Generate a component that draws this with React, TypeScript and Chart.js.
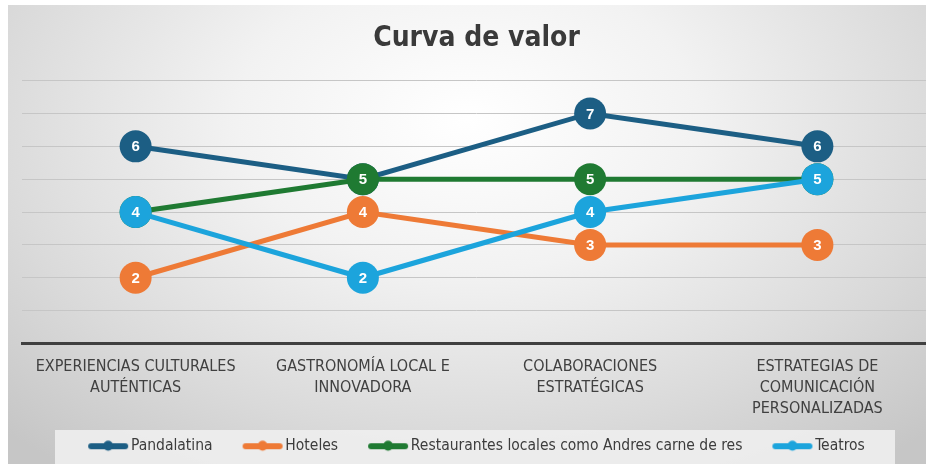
import React, { useEffect, useRef } from "react";
import { Chart, registerables } from "chart.js";

Chart.register(...registerables);

const titleText = "Curva de valor";
const categories: string[][] = [
  ["EXPERIENCIAS CULTURALES", "AUTÉNTICAS"],
  ["GASTRONOMÍA LOCAL E", "INNOVADORA"],
  ["COLABORACIONES", "ESTRATÉGICAS"],
  ["ESTRATEGIAS DE", "COMUNICACIÓN", "PERSONALIZADAS"],
];
const seriesNames = [
  "Pandalatina",
  "Hoteles",
  "Restaurantes locales como Andres carne de res",
  "Teatros",
];
const pandalatina = [6, 5, 7, 6];
const hoteles = [2, 4, 3, 3];
const restaurantes = [4, 5, 5, 5];
const teatros = [4, 2, 4, 5];
const yMin = 0;
const yMax = 8;
const yStep = 1;

const colors = ["#1c5e84", "#ee7a36", "#1f7a32", "#1ca4dc"];
const NARROW = "'DejaVu Sans Condensed', 'Liberation Sans Narrow', sans-serif";

const MARKER_BOX = 55;
function legendMarker(color: string) {
  const W = MARKER_BOX + 16;
  const c = document.createElement("canvas");
  c.width = W;
  c.height = 12;
  const ctx = c.getContext("2d")!;
  const right = W - 3;
  const left = right - 40;
  ctx.strokeStyle = color;
  ctx.lineWidth = 6;
  ctx.lineCap = "round";
  ctx.beginPath();
  ctx.moveTo(left + 3, 6);
  ctx.lineTo(right - 3, 6);
  ctx.stroke();
  ctx.fillStyle = color;
  ctx.beginPath();
  ctx.arc((left + right) / 2, 5.5, 5, 0, Math.PI * 2);
  ctx.fill();
  return c;
}

const legendBoxPlugin = {
  id: "legendBox",
  afterLayout(chart: any) {
    const lg = chart.legend;
    if (lg) {
      lg.left -= 10;
      lg.right -= 10;
    }
  },
  beforeDraw(chart: any) {
    const ctx = chart.ctx;
    ctx.save();
    ctx.fillStyle = "rgba(238,238,238,0.9)";
    ctx.fillRect(47, 425, 840, 34);
    ctx.restore();
  },
};

const pointLabelPlugin = {
  id: "pointLabels",
  afterDatasetDraw(chart: any, args: any) {
    const meta = args.meta;
    const ds = chart.data.datasets[args.index];
    const ctx = chart.ctx;
    ctx.save();
    ctx.fillStyle = "#ffffff";
    ctx.font = "bold 15px 'Liberation Sans', Arial, sans-serif";
    ctx.textAlign = "center";
    ctx.textBaseline = "middle";
    meta.data.forEach((pt: any, i: number) => {
      ctx.fillText(String(ds.data[i]), pt.x, pt.y + 1);
    });
    ctx.restore();
  },
};

export default function App() {
  const ref = useRef<HTMLCanvasElement>(null);
  useEffect(() => {
    if (!ref.current) return;
    const series = [pandalatina, hoteles, restaurantes, teatros];
    const markers = colors.map(legendMarker);
    const chart = new Chart(ref.current, {
      type: "line",
      data: {
        labels: categories,
        datasets: series.map((d, i) => ({
          label: seriesNames[i],
          data: d,
          borderColor: colors[i],
          backgroundColor: colors[i],
          pointBackgroundColor: colors[i],
          pointBorderColor: colors[i],
          pointBorderWidth: 0,
          pointRadius: 16,
          pointStyle: "circle",
          borderWidth: 5,
          tension: 0,
          fill: false,
          clip: false as any,
          order: 4 - i,
        })),
      },
      options: {
        responsive: false,
        animation: false,
        events: [],
        layout: {
          autoPadding: false,
          padding: { left: 14, right: 3, top: 0, bottom: 0 },
        },
        scales: {
          x: {
            offset: true,
            grid: { display: false, drawTicks: false },
            border: { display: true, color: "#404040", width: 3 },
            ticks: {
              color: "#404040",
              font: { family: NARROW, size: 16, lineHeight: "21px" } as any,
              padding: 13,
              maxRotation: 0,
              autoSkip: false,
            },
            afterFit: (s: any) => {
              s.height = 85;
            },
          },
          y: {
            min: yMin,
            max: yMax,
            ticks: { display: false, stepSize: yStep },
            grid: { color: "#c6c6c6", lineWidth: 1, drawTicks: false },
            border: { display: false },
          },
        },
        plugins: {
          title: {
            display: true,
            text: titleText,
            color: "#3a3a3a",
            font: { family: NARROW, size: 28, weight: "bold", lineHeight: 1.2 },
            padding: { top: 17, bottom: 25 },
          },
          legend: {
            position: "bottom",
            labels: {
              usePointStyle: true,
              pointStyleWidth: MARKER_BOX,
              color: "#3c3c3c",
              font: { family: NARROW, size: 15.5 },
              padding: 10,
              generateLabels: (c: any) =>
                c.data.datasets.map((ds: any, i: number) => ({
                  text: ds.label,
                  fillStyle: colors[i],
                  strokeStyle: colors[i],
                  lineWidth: 0,
                  pointStyle: markers[i],
                  datasetIndex: i,
                  hidden: false,
                  fontColor: "#3c3c3c",
                })),
            },
          },
          tooltip: { enabled: false },
        },
      },
      plugins: [legendBoxPlugin, pointLabelPlugin],
    });
    return () => chart.destroy();
  }, []);

  return (
    <div
      style={{
        position: "fixed",
        left: 8,
        top: 5,
        right: 0,
        bottom: 0,
        overflow: "hidden",
        background:
          "radial-gradient(ellipse 72% 95% at 50% 25%, #ffffff 0%, #f2f2f2 35%, #dadada 72%, #c6c6c6 100%)",
      }}
    >
      <canvas ref={ref} width={926} height={459} style={{ display: "block" }} />
    </div>
  );
}
